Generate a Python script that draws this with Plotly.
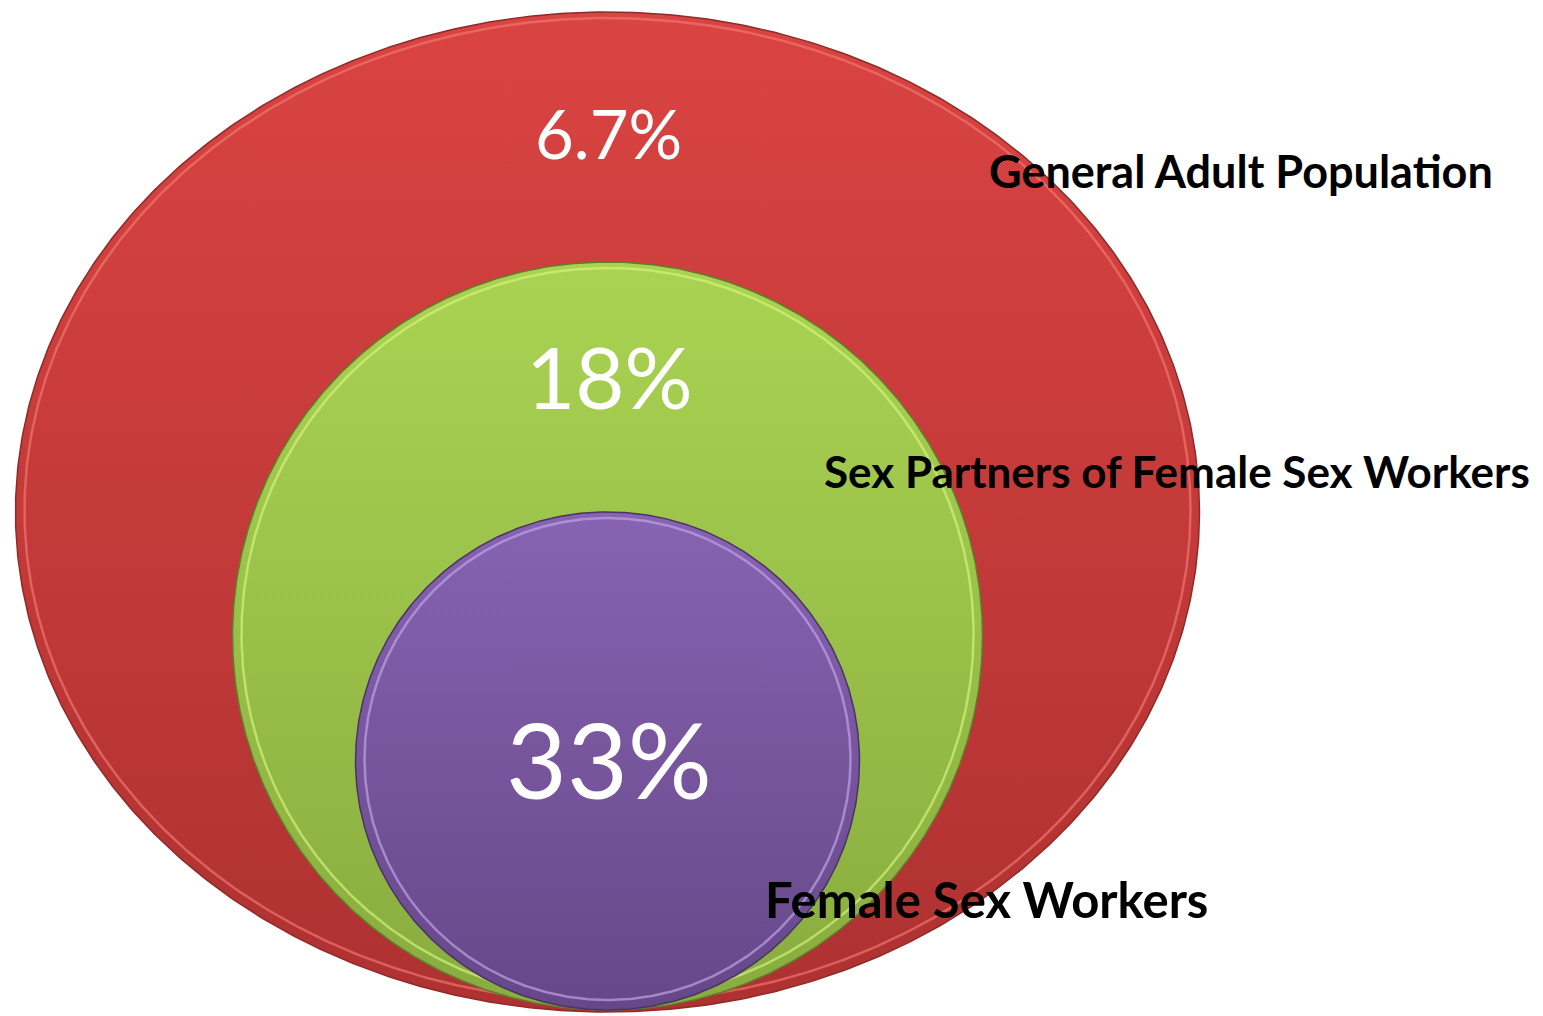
import numpy as np
import plotly.graph_objects as go

# ---- data ----
groups = ["General Adult Population", "Sex Partners of Female Sex Workers", "Female Sex Workers"]
prevalence = ["6.7%", "18%", "33%"]

# ellipse geometry (pixel space) : cx, cy, rx, ry
ellipses = [(607.5, 512, 592, 500), (607.5, 636, 375, 374), (607.5, 761, 252, 249)]
grad = [["#DA4442", "#AE3131"], ["#AAD352", "#88AC3F"], ["#8763B2", "#664888"]]
rims = ["#F27A74", "#D6F77E", "#C3A8EE"]
edges = ["#8E2A28", "#5F7D2A", "#4A3366"]
pct_pos = [(608, 133, 67), (609, 376, 85), (609, 758, 105)]
lab_pos = [(1241, 171, 45), (1177, 471, 44), (986, 899, 49)]

fig = go.Figure()
t = np.linspace(0, 2 * np.pi, 721)
for (cx, cy, rx, ry), g, rim, edge in zip(ellipses, grad, rims, edges):
    fig.add_trace(go.Scatter(
        x=cx + rx * np.cos(t), y=cy + ry * np.sin(t), mode="lines",
        fill="toself",
        fillgradient=dict(type="vertical", colorscale=[[0, g[1]], [1, g[0]]]),
        line=dict(color=edge, width=1.5), hoverinfo="skip", showlegend=False))
    fig.add_trace(go.Scatter(
        x=cx + (rx - 9) * np.cos(t), y=cy + (ry - 8) * np.sin(t) - 2, mode="lines",
        line=dict(color=rim, width=2.5), opacity=0.65,
        hoverinfo="skip", showlegend=False))

for txt, (x, y, s) in zip(prevalence, pct_pos):
    fig.add_annotation(x=x, y=y, text=txt, showarrow=False,
                       font=dict(family="Lato", size=s, color="white"),
                       xanchor="center", yanchor="middle")
for txt, (x, y, s) in zip(groups, lab_pos):
    fig.add_annotation(x=x, y=y, text=f"<b>{txt}</b>", showarrow=False,
                       font=dict(family="Lato", size=s, color="black"),
                       xanchor="center", yanchor="middle")

fig.update_xaxes(range=[0, 1543], visible=False, fixedrange=True)
fig.update_yaxes(range=[1016, 0], visible=False, fixedrange=True)
fig.update_layout(width=1543, height=1016, margin=dict(l=0, r=0, t=0, b=0),
                  plot_bgcolor="white", paper_bgcolor="white")
fig.write_html("out.html", config={"displayModeBar": False},
               post_script="document.body.style.margin='0';")
